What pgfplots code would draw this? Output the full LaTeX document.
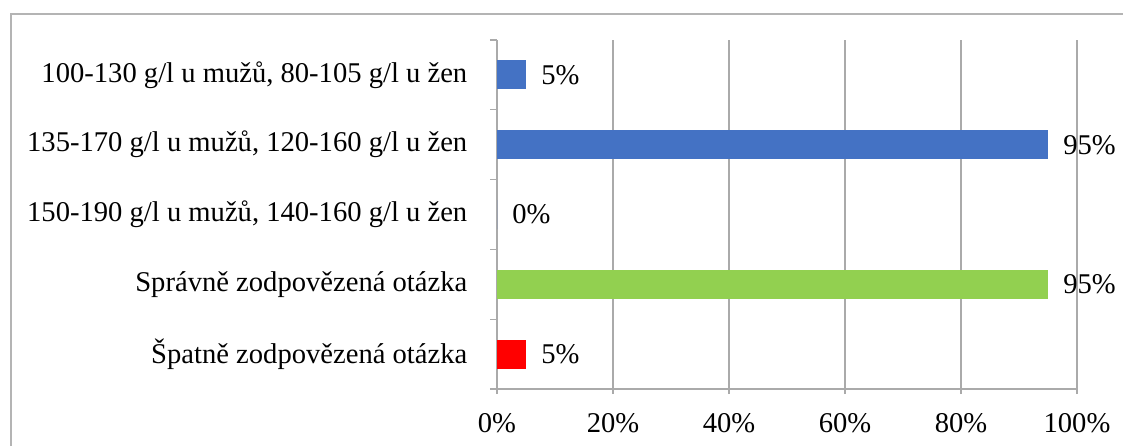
\documentclass[border=0pt]{standalone}
\usepackage{pgfplots}
\pgfplotsset{compat=1.18}
\usepackage{fontspec}
\setmainfont{Liberation Serif}
\definecolor{cblue}{HTML}{4472C4}
\definecolor{cgreen}{HTML}{92D050}
\definecolor{cred}{HTML}{FF0000}
\definecolor{axgray}{RGB}{170,170,170}
\definecolor{framegray}{RGB}{180,180,180}
\begin{document}
\fontsize{14.3}{17}\selectfont
\begin{tikzpicture}
\useasboundingbox (0,0) rectangle (561.5pt,-223pt);
\draw[color=framegray, line width=0.7pt] (5.5pt,-223pt) -- (5.5pt,-7pt) -- (561.5pt,-7pt);
\begin{axis}[
  at={(248.5pt,-194.5pt)}, anchor=south west,
  scale only axis, width=290pt, height=174.5pt,
  xmin=0, xmax=100, ymin=-0.5, ymax=4.5,
  axis x line*=bottom, axis y line*=left,
  xtick={0,20,...,100},
  xticklabels={0\%,20\%,40\%,60\%,80\%,100\%},
  ytick={0,...,4},
  yticklabels={Špatně zodpovězená otázka,Správně zodpovězená otázka,{150-190 g/l u mužů, 140-160 g/l u žen},{135-170 g/l u mužů, 120-160 g/l u žen},{100-130 g/l u mužů, 80-105 g/l u žen}},
  minor ytick={-0.5,0.5,...,4.5},
  major y tick style={draw=none},
  tick align=outside,
  major tick length=2.5pt, minor tick length=3.5pt,
  xmajorgrids,
  grid style={axgray, line width=0.6pt},
  axis line style={axgray, line width=0.6pt},
  tick style={axgray, line width=0.6pt},
  xticklabel style={yshift=-5pt},
  yticklabel style={xshift=-7.4pt},
  xbar, bar width=14.5pt, bar shift=0pt,
  clip=false,
  every node near coord/.append style={anchor=west, xshift=2.7pt, text=black},
]
\addplot[fill=cblue, draw=none, nodes near coords={5\%}] coordinates {(5,4)};
\addplot[fill=cblue, draw=none, nodes near coords={95\%}] coordinates {(95,3)};
\addplot[fill=cblue, draw=none, nodes near coords={0\%}] coordinates {(0,2)};
\addplot[fill=cgreen, draw=none, nodes near coords={95\%}] coordinates {(95,1)};
\addplot[fill=cred, draw=none, nodes near coords={5\%}] coordinates {(5,0)};
\end{axis}
\end{tikzpicture}
\end{document}
